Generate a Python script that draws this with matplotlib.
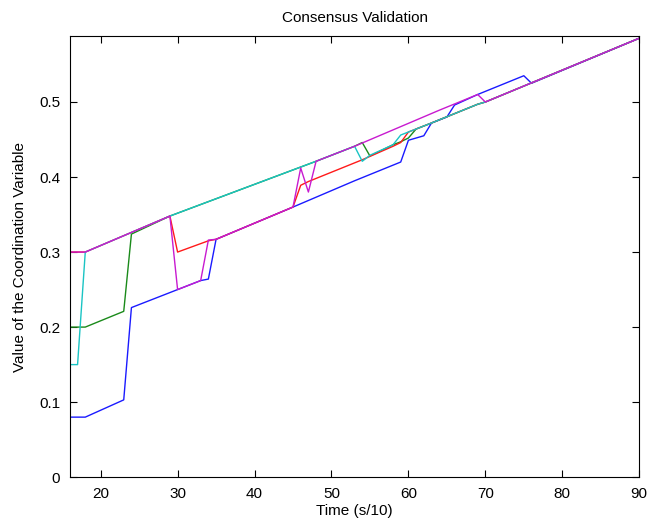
import matplotlib
matplotlib.use('Agg')
import matplotlib.pyplot as plt

# MATLAB style default colours
COLOR_B = '#1a1aff'
COLOR_G = '#1a8a1a'
COLOR_R = '#ff1a1a'
COLOR_C = '#1ac4c4'
COLOR_M = '#c81ad0'

# Coordination variable of each agent (breakpoints, time in s/10)
t_blue = [16, 18, 23, 24, 30, 33, 34, 35, 45, 53, 59, 60, 62, 63, 65, 66, 69, 75, 76, 90]
v_blue = [0.080, 0.080, 0.103, 0.226, 0.250, 0.262, 0.264, 0.317, 0.360, 0.395,
          0.420, 0.449, 0.455, 0.472, 0.480, 0.496, 0.510, 0.535, 0.525, 0.585]

t_green = [16, 18, 23, 24, 29, 48, 53, 54, 55, 58, 59, 60, 61, 63, 69, 70, 90]
v_green = [0.200, 0.200, 0.221, 0.324, 0.348, 0.421, 0.441, 0.446, 0.428, 0.443,
           0.447, 0.452, 0.464, 0.472, 0.497, 0.500, 0.585]

t_red = [16, 18, 29, 30, 34, 35, 45, 46, 47, 54, 58, 59, 60, 61, 63, 69, 70, 90]
v_red = [0.300, 0.300, 0.348, 0.300, 0.315, 0.317, 0.360, 0.389, 0.394, 0.423,
         0.441, 0.446, 0.460, 0.464, 0.472, 0.497, 0.500, 0.585]

t_cyan = [16, 17, 18, 29, 48, 53, 54, 55, 58, 59, 60, 63, 69, 70, 90]
v_cyan = [0.150, 0.150, 0.300, 0.348, 0.421, 0.441, 0.421, 0.429, 0.443, 0.456,
          0.460, 0.472, 0.497, 0.500, 0.585]

t_mag = [16, 18, 29, 30, 33, 34, 35, 45, 46, 47, 48, 53, 64, 69, 70, 90]
v_mag = [0.300, 0.300, 0.348, 0.250, 0.262, 0.316, 0.317, 0.360, 0.412, 0.380,
         0.421, 0.441, 0.489, 0.510, 0.500, 0.585]

x_ticks = [20, 30, 40, 50, 60, 70, 80, 90]
y_ticks = [0, 0.1, 0.2, 0.3, 0.4, 0.5]
y_ticklabels = ['0', '0.1', '0.2', '0.3', '0.4', '0.5']

plt.rcParams.update({
    'font.family': ['Liberation Sans', 'DejaVu Sans'],
    'font.size': 11,
    'axes.linewidth': 0.8,
    'xtick.direction': 'in',
    'ytick.direction': 'in',
    'xtick.top': True,
    'ytick.right': True,
    'xtick.major.size': 5,
    'ytick.major.size': 5,
})

fig = plt.figure(figsize=(6.47, 5.29), dpi=100)
ax = fig.add_axes([0.108, 0.098, 0.880, 0.834])

series = [
    (t_blue, v_blue, COLOR_B),
    (t_green, v_green, COLOR_G),
    (t_red, v_red, COLOR_R),
    (t_cyan, v_cyan, COLOR_C),
    (t_mag, v_mag, COLOR_M),
]
for t, v, c in series:
    ax.plot(t, v, color=c, linewidth=1.0)

ax.set_xlim(16, 90)
ax.set_ylim(0, 0.588)
ax.set_xticks(x_ticks)
ax.set_yticks(y_ticks)
ax.set_yticklabels(y_ticklabels)
ax.tick_params(labelsize=11, pad=7)

ax.set_title('Consensus Validation', fontsize=11, pad=10)
ax.set_xlabel('Time (s/10)', fontsize=11, labelpad=2)
ax.set_ylabel('Value of the Coordination Variable', fontsize=11, labelpad=9)

plt.savefig('out.png', dpi=100, facecolor='white')
plt.close()
